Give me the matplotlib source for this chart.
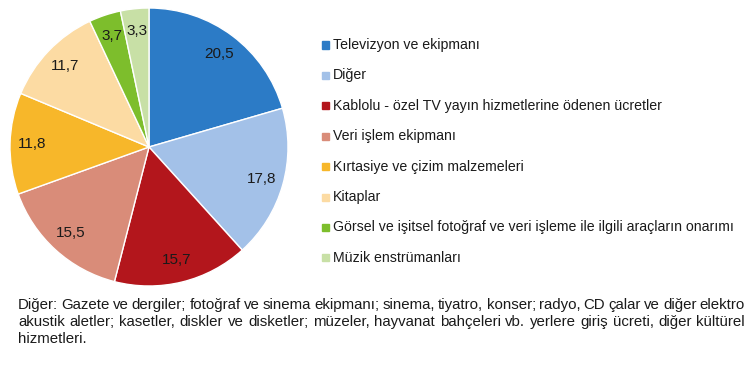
import matplotlib.pyplot as plt
from matplotlib.patches import Rectangle

labels = ["Televizyon ve ekipmanı", "Diğer",
          "Kablolu - özel TV yayın hizmetlerine ödenen ücretler",
          "Veri işlem ekipmanı", "Kırtasiye ve çizim malzemeleri", "Kitaplar",
          "Görsel ve işitsel fotoğraf ve veri işleme ile ilgili araçların onarımı",
          "Müzik enstrümanları"]
values = [20.5, 17.8, 15.7, 15.5, 11.8, 11.7, 3.7, 3.3]
colors = ["#2C7BC6", "#A3C1E8", "#B3161C", "#D98C79", "#F7B72A", "#FCDBA3",
          "#7DBE2C", "#C8E0A6"]
note_lines = [
    "Diğer: Gazete ve dergiler; fotoğraf ve sinema ekipmanı; sinema, tiyatro, konser; radyo, CD çalar ve diğer elektro",
    "akustik aletler; kasetler, diskler ve disketler; müzeler, hayvanat bahçeleri vb. yerlere giriş ücreti, diğer kültürel",
    "hizmetleri.",
]

plt.rcParams['font.family'] = ['Liberation Sans', 'DejaVu Sans']

W, H = 750, 373
fig = plt.figure(figsize=(7.5, 3.73), dpi=100)

# pie: center (149,147), radius ~139 px
r = 139
ax = fig.add_axes([(149 - r) / W, 1 - (147 + r) / H, 2 * r / W, 2 * r / H])
ax.pie(values, colors=colors, startangle=90, counterclock=False,
       labels=[f"{v:.1f}".replace(".", ",") for v in values], labeldistance=0.84,
       wedgeprops=dict(edgecolor="white", linewidth=1),
       textprops=dict(fontsize=11, color="#1a1a1a", ha="center", va="center"))
ax.set_aspect("equal")
ax.set_xlim(-1, 1)
ax.set_ylim(-1, 1)
ax.axis("off")

# legend
y0, dy = 45, 30.4
for i, (lab, c) in enumerate(zip(labels, colors)):
    y = y0 + i * dy
    fig.patches.append(Rectangle((322 / W, 1 - (y + 3.5) / H), 7 / W, 7 / H,
                                 transform=fig.transFigure, color=c))
    fig.text(333 / W, 1 - y / H, lab, fontsize=10.2, va="center", ha="left",
             color="#1a1a1a")

# justified footnote
fig.canvas.draw()
renderer = fig.canvas.get_renderer()
x_left, x_right = 18, 745
for k, line in enumerate(note_lines):
    y = 1 - (305 + k * 17) / H
    if k == len(note_lines) - 1:
        fig.text(x_left / W, y, line, fontsize=10.8, va="center", color="#1a1a1a")
        continue
    words = line.split(" ")
    texts = [fig.text(0, y, w, fontsize=10.8, va="center", color="#1a1a1a")
             for w in words]
    widths = [t.get_window_extent(renderer).width for t in texts]
    gap = (x_right - x_left - sum(widths)) / (len(words) - 1)
    x = x_left
    for t, w in zip(texts, widths):
        t.set_x(x / W)
        x += w + gap

fig.savefig("out.png", dpi=100, facecolor="white")
